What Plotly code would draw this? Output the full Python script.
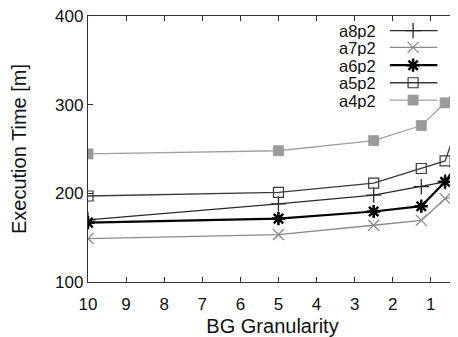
import plotly.graph_objects as go

# Data
granularity = [10, 5, 2.5, 1.25, 0.625, 0.3125]
series_names = ["a8p2", "a7p2", "a6p2", "a5p2", "a4p2"]
a8p2 = [170, 188, 198, 207.5, 213, 230]
a7p2 = [149, 153.5, 164, 169.5, 194, 197]
a6p2 = [167, 171.5, 179.5, 185.5, 213, 232]
a5p2 = [197, 201, 211.5, 228, 236.5, 275]
a4p2 = [244.5, 248, 259.5, 276.5, 302, 320]
values = [a8p2, a7p2, a6p2, a5p2, a4p2]

styles = {
    "a8p2": dict(color="#2a2a2a", width=1.3, symbol="cross-thin", size=11, mlw=1.3, mcolor="#2a2a2a"),
    "a7p2": dict(color="#8a8a8a", width=1.3, symbol="x-thin", size=11, mlw=1.3, mcolor="#8a8a8a"),
    "a6p2": dict(color="#000000", width=2.2, symbol="asterisk", size=11, mlw=2.5, mcolor="#000000"),
    "a5p2": dict(color="#3a3a3a", width=1.3, symbol="square-open", size=10, mlw=1.2, mcolor="#3a3a3a"),
    "a4p2": dict(color="#a0a0a0", width=1.3, symbol="square", size=10, mlw=0.8, mcolor="#9a9a9a"),
}

fig = go.Figure()
for name, ys in zip(series_names, values):
    s = styles[name]
    fig.add_trace(go.Scatter(
        x=granularity, y=ys, mode="lines+markers", name=name, showlegend=False,
        line=dict(color=s["color"], width=s["width"]),
        marker=dict(symbol=s["symbol"], size=s["size"], color=s["mcolor"],
                    line=dict(color=s["mcolor"], width=s["mlw"])),
    ))

# Manual legend (text left of sample, as in the reference)
leg_rows = [0.945, 0.882, 0.815, 0.749, 0.684]
annotations = []
for name, yr in zip(series_names, leg_rows):
    s = styles[name]
    fig.add_trace(go.Scatter(
        x=[0.818, 0.947], y=[yr, yr], mode="lines", xaxis="x2", yaxis="y2",
        showlegend=False, hoverinfo="skip", cliponaxis=False,
        line=dict(color=s["color"], width=s["width"]),
    ))
    fig.add_trace(go.Scatter(
        x=[0.881], y=[yr], mode="markers", xaxis="x2", yaxis="y2",
        showlegend=False, hoverinfo="skip", cliponaxis=False,
        marker=dict(symbol=s["symbol"], size=s["size"], color=s["mcolor"],
                    line=dict(color=s["mcolor"], width=s["mlw"])),
    ))
    annotations.append(dict(
        x=0.786, y=yr, xref="paper", yref="paper", text=name, showarrow=False,
        xanchor="right", yanchor="middle", height=17,
        font=dict(size=16.5, color="#111"),
    ))

# The page body has an 8px margin, so the figure is sized and offset to compensate.
fig.update_layout(
    width=450, height=329,
    margin=dict(l=80, r=1, t=8, b=55),
    paper_bgcolor="white", plot_bgcolor="white",
    font=dict(family="Liberation Sans, Arial, sans-serif", size=17, color="#111"),
    annotations=annotations,
    xaxis=dict(
        range=[10, 0.3125], tick0=0, dtick=1, ticks="inside", ticklen=5,
        tickcolor="#333", showline=True, linecolor="#333", linewidth=1.3,
        mirror="ticks", showgrid=False, zeroline=False, ticklabelstandoff=6,
        automargin=False,
        title=dict(text="BG Granularity", standoff=13, font=dict(color="#111")),
    ),
    yaxis=dict(
        range=[100, 400], dtick=100, ticks="inside", ticklen=5,
        tickcolor="#333", showline=True, linecolor="#333", linewidth=1.3,
        mirror="ticks", showgrid=False, zeroline=False, automargin=False,
        ticklabeloverflow="allow",
        title=dict(text="Execution Time [m]", standoff=32, font=dict(color="#111")),
    ),
    xaxis2=dict(overlaying="x", range=[0, 1], visible=False, fixedrange=True),
    yaxis2=dict(overlaying="y", range=[0, 1], visible=False, fixedrange=True),
)

fig.write_html("out.html")
